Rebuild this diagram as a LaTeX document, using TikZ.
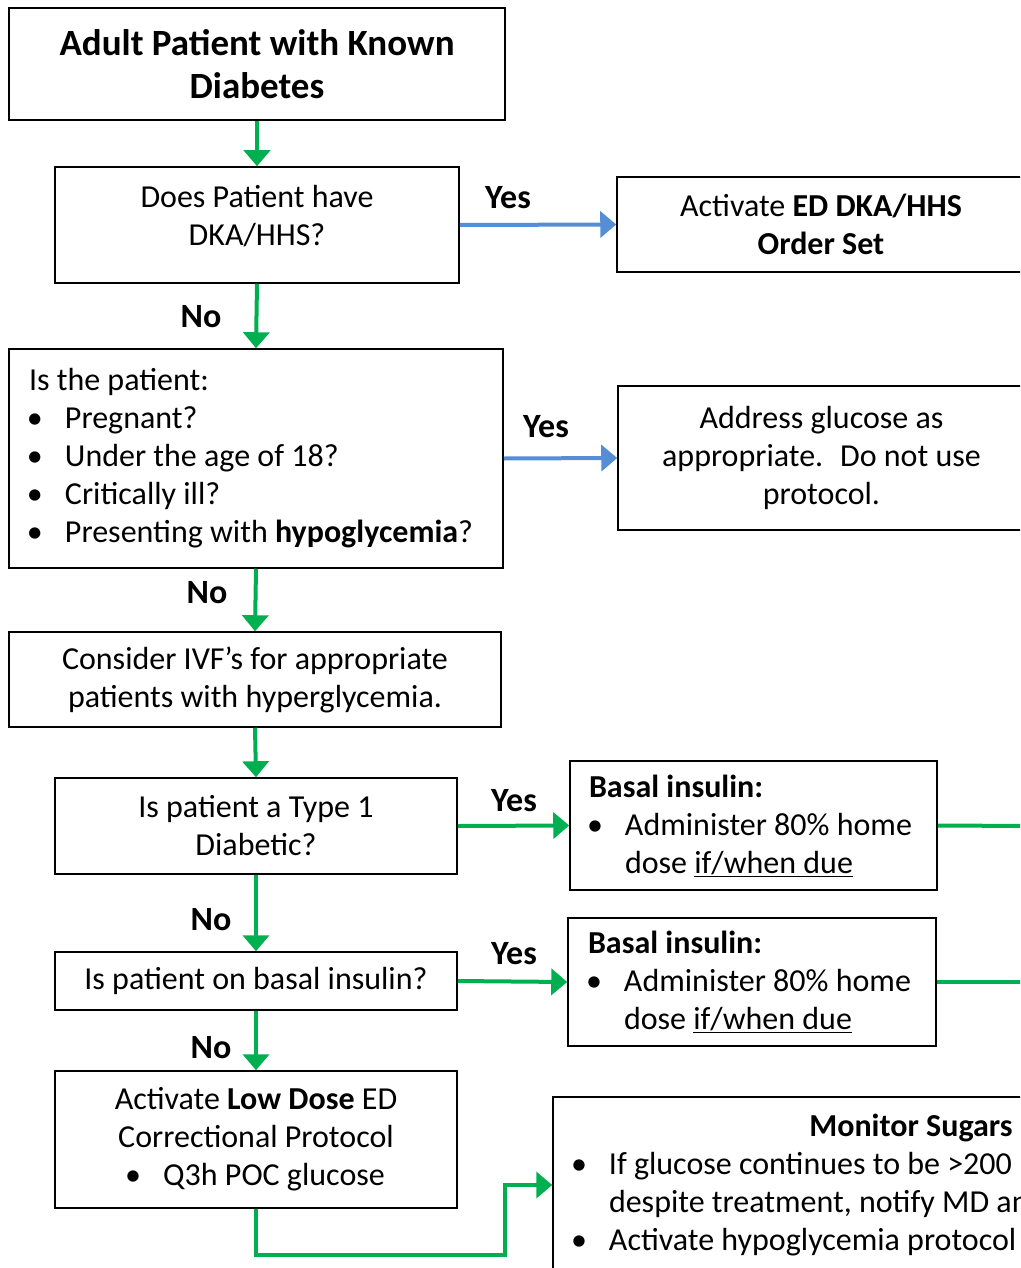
\documentclass[tikz,border=0pt]{standalone}
\usepackage{fontspec}
\setmainfont{Carlito}
\usepackage{tikz}
\usetikzlibrary{positioning,arrows.meta,calc}

\definecolor{flowgreen}{RGB}{0,176,80}
\definecolor{flowblue}{RGB}{85,142,213}

\newcommand{\bitem}[1]{\makebox[36pt][l]{\hspace{-2pt}\textbullet}#1}
\newcommand{\bcont}[1]{\hspace*{36pt}#1}

\begin{document}
\begin{tikzpicture}[x=1pt,y=-1pt,
  box/.style={draw=black, line width=1.5pt, inner sep=0pt, align=center,
    font=\fontsize{32}{38}\selectfont},
  lbox/.style={box, align=flush left, inner xsep=20pt,
    execute at begin node={\spaceskip=0pt\xspaceskip=0pt\relax}},
  ttl/.style={box, font=\fontsize{37}{43}\selectfont\bfseries},
  lbl/.style={inner sep=0pt, font=\fontsize{34}{40}\selectfont\bfseries},
  garrow/.style={draw=flowgreen, line width=4pt, -{Triangle[width=26pt,length=16pt]}},
  barrow/.style={garrow, draw=flowblue},
  gline/.style={draw=flowgreen, line width=4pt}]
  \useasboundingbox (0,0) rectangle (1020,1268);
  \clip (0,0) rectangle (1020,1268);

  % left column
  \node[ttl, minimum width=496pt, minimum height=112pt] (title) at (257,64) {Adult Patient with Known\\Diabetes};
  \node[box, minimum width=404pt, minimum height=116pt] (dka) at (257,225) {Does Patient have\\DKA/HHS?\\[-18pt]\mbox{}};
  \node[lbox, text width=454pt, minimum height=219pt] (ispat) at (256,458.5) {Is the patient:\\
    \bitem{Pregnant?}\\
    \bitem{Under the age of 18?}\\
    \bitem{Critically ill?}\\
    \bitem{Presenting with \textbf{hypoglycemia}?}};
  \node[box, minimum width=492pt, minimum height=95pt] (ivf) at (255,679.5) {Consider IVF’s for appropriate\\patients with hyperglycemia.};
  \node[box, minimum width=402pt, minimum height=96pt] (type1) at (256,826) {Is patient a Type 1\\Diabetic?};
  \node[box, minimum width=402pt, minimum height=58pt] (bq) at (256,981) {Is patient on basal insulin?};
  \node[box, minimum width=402pt, minimum height=137pt] (low) at (256,1139.5) {Activate \textbf{Low Dose} ED\\Correctional Protocol\\\bitem{Q3h POC glucose}};

  % right column (runs off the page)
  \node[box, minimum width=408pt, minimum height=95pt] (act) at (821,224.5) {Activate \textbf{ED DKA/HHS}\\\textbf{Order Set}};
  \node[box, minimum width=407pt, minimum height=144pt] (addr) at (821.5,458) {Address glucose as\\appropriate.~ Do not use\\protocol.};
  \node[lbox, text width=329pt, inner xsep=19pt, minimum height=129pt] (basal1) at (753.5,825.5) {\textbf{Basal insulin:}\\
    \bitem{Administer 80\% home}\\
    \bcont{dose \underline{if/when due}}};
  \node[lbox, text width=328pt, minimum height=128pt] (basal2) at (752,982) {\textbf{Basal insulin:}\\
    \bitem{Administer 80\% home}\\
    \bcont{dose \underline{if/when due}}};
  \node[lbox, text width=676pt, minimum height=176pt] (mon) at (911,1185) {\makebox[676pt]{\textbf{Monitor Sugars}}\\
    \bitem{If glucose continues to be >200}\\
    \bcont{despite treatment, notify MD and}\\
    \bitem{Activate hypoglycemia protocol}};

  % main line down the left
  \foreach \a/\b in {title/dka, dka/ispat, ispat/ivf, ivf/type1, type1/bq, bq/low}
    \draw[garrow] (\a.south) -- (\b.north);

  % yes branches
  \draw[barrow] (dka.east) -- (act.west);
  \draw[barrow] (ispat.east) -- (addr.west);
  \draw[garrow] (type1.east) -- (basal1.west);
  \draw[garrow] (bq.east) -- (basal2.west);

  % lines leaving the page
  \coordinate (off1) at (1030,826);
  \coordinate (off2) at (1030,982);
  \draw[gline] (basal1.east) -- (off1);
  \draw[gline] (basal2.east) -- (off2);

  % to monitoring
  \coordinate (elbow) at (505,1255);
  \draw[garrow] (low.south) |- (elbow) |- (mon.west);

  % labels
  \node[lbl] (yes1) at (508,198) {Yes};
  \node[lbl] (no1) at (201,317) {No};
  \node[lbl] (yes2) at (546,427) {Yes};
  \node[lbl] (no2) at (207,593) {No};
  \node[lbl] (yes3) at (514,801) {Yes};
  \node[lbl] (no3) at (211,920) {No};
  \node[lbl] (yes4) at (514,954) {Yes};
  \node[lbl] (no4) at (211,1048) {No};
\end{tikzpicture}
\end{document}
